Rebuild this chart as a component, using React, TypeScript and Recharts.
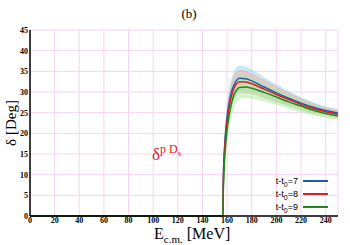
import { ComposedChart, Line, Area, XAxis, YAxis, CartesianGrid } from 'recharts';

// energies (MeV)
const energies = [0, 40, 80, 120, 156.5, 157, 158, 159, 160, 162, 164, 166, 168, 170, 175, 180, 190, 200, 210, 220, 230, 240, 250];

// phase shifts (deg) for each t-t0
const delta7 = [0, 0, 0, 0, 0, 10, 17, 21, 24, 28, 30.5, 32, 32.9, 33.3, 33.2, 32.7, 31.2, 29.8, 28.5, 27.3, 26.3, 25.5, 24.9];
const delta8 = [0, 0, 0, 0, 0, 9, 16, 20, 23, 27, 29.5, 31.2, 32.1, 32.5, 32.4, 32, 30.7, 29.4, 28.2, 27, 26, 25.2, 24.6];
const delta9 = [0, 0, 0, 0, 0, 7, 14, 18, 21, 25, 27.8, 29.6, 30.6, 31.1, 31.2, 30.9, 29.9, 28.8, 27.6, 26.6, 25.6, 24.8, 24.2];

// statistical errors (deg)
const err7 = [0, 0, 0, 0, 0, 1, 1.5, 2, 2.3, 2.6, 2.8, 2.9, 3, 3, 2.8, 2.6, 2.2, 1.9, 1.6, 1.3, 1.1, 0.9, 0.8];
const err8 = [0, 0, 0, 0, 0, 1, 1.5, 1.9, 2.2, 2.5, 2.6, 2.7, 2.7, 2.7, 2.6, 2.4, 2.1, 1.8, 1.5, 1.3, 1.1, 0.9, 0.8];
const err9 = [0, 0, 0, 0, 0, 1, 1.5, 1.9, 2.2, 2.5, 2.6, 2.6, 2.6, 2.6, 2.5, 2.3, 2.0, 1.7, 1.5, 1.3, 1.1, 0.9, 0.8];

const xTicks = [0, 20, 40, 60, 80, 100, 120, 140, 160, 180, 200, 220, 240];
const yTicks = [0, 5, 10, 15, 20, 25, 30, 35, 40, 45];

const data = energies.map((e, i) => ({
  e,
  d7: delta7[i],
  d8: delta8[i],
  d9: delta9[i],
  b7: [delta7[i] - err7[i], delta7[i] + err7[i]],
  b8: [delta8[i] - err8[i], delta8[i] + err8[i]],
  b9: [delta9[i] - err9[i], delta9[i] + err9[i]],
}));

const serif = '"Liberation Serif", "DejaVu Serif", serif';
const tickStyle = { fontFamily: serif, fontSize: 8, fontWeight: 'bold', fill: '#000' };

const legend = [
  { label: '7', color: '#1a5fb4' },
  { label: '8', color: '#e01b24' },
  { label: '9', color: '#1a8a1a' },
];

export default function App() {
  return (
    <div style={{ position: 'absolute', left: 0, top: 0, width: 350, height: 245, background: '#fff' }}>
      <ComposedChart width={350} height={245} data={data} margin={{ top: 30, right: 12, left: 0, bottom: 15 }}>
        <CartesianGrid stroke="#f4d4f0" ticks={xTicks} />
        <XAxis
          dataKey="e"
          type="number"
          domain={[0, 250]}
          ticks={xTicks}
          height={14}
          tick={tickStyle}
          tickLine={false}
          tickSize={1}
          tickMargin={0}
          axisLine={{ stroke: '#000', strokeWidth: 1.5 }}
          interval={0}
        />
        <XAxis xAxisId="top" orientation="top" dataKey="e" type="number" domain={[0, 250]} height={0} tick={false} axisLine={{ stroke: '#777' }} />
        <YAxis
          type="number"
          domain={[0, 45]}
          ticks={yTicks}
          width={30}
          tick={tickStyle}
          tickLine={false}
          tickSize={1}
          tickMargin={1}
          axisLine={{ stroke: '#000', strokeWidth: 1.5 }}
          interval={0}
        />
        <YAxis yAxisId="right" orientation="right" domain={[0, 45]} width={0} tick={false} axisLine={{ stroke: '#000' }} />
        <Area dataKey="b7" type="monotone" stroke="#8fd3f5" strokeWidth={0.5} fill="#9dd9f7" fillOpacity={0.55} isAnimationActive={false} />
        <Area dataKey="b8" type="monotone" stroke="#f5a090" strokeWidth={0.5} fill="#f7ab9d" fillOpacity={0.5} isAnimationActive={false} />
        <Area dataKey="b9" type="monotone" stroke="#98ee90" strokeWidth={0.5} fill="#a6f29e" fillOpacity={0.5} isAnimationActive={false} />
        <Line dataKey="d7" type="monotone" stroke="#1a5fb4" strokeWidth={1.5} dot={false} isAnimationActive={false} />
        <Line dataKey="d8" type="monotone" stroke="#e01b24" strokeWidth={1.5} dot={false} isAnimationActive={false} />
        <Line dataKey="d9" type="monotone" stroke="#1a8a1a" strokeWidth={1.5} dot={false} isAnimationActive={false} />
      </ComposedChart>

      <div style={{ position: 'absolute', left: 0, top: 6, width: 378, textAlign: 'center', fontFamily: serif, fontSize: 13, lineHeight: '15px' }}>(b)</div>

      <div
        style={{
          position: 'absolute',
          left: 11 - 50,
          top: 123 - 8,
          width: 100,
          height: 16,
          textAlign: 'center',
          transform: 'rotate(-90deg)',
          fontFamily: serif,
          fontSize: 15,
          lineHeight: '16px',
          whiteSpace: 'nowrap',
        }}
      >
        δ [Deg]
      </div>

      <div style={{ position: 'absolute', left: 154, top: 226, fontFamily: serif, fontSize: 16, lineHeight: '16px', whiteSpace: 'nowrap' }}>
        E<sub style={{ fontSize: 11, lineHeight: 0 }}>c.m.</sub> [MeV]
      </div>

      <div style={{ position: 'absolute', left: 152, top: 146, fontFamily: serif, fontSize: 17, lineHeight: '17px', color: '#e01b24', whiteSpace: 'nowrap' }}>
        δ<sup style={{ fontSize: 12, lineHeight: 0 }}>p D<sub style={{ fontSize: 9, lineHeight: 0 }}>s</sub></sup>
      </div>

      {legend.map((l, i) => (
        <div key={l.label} style={{ position: 'absolute', left: 270, top: 175 + i * 13, width: 60, height: 12, fontFamily: '"Liberation Sans", sans-serif', fontSize: 9 }}>
          <span style={{ position: 'absolute', right: 32, top: 0, whiteSpace: 'nowrap', lineHeight: '12px' }}>
            t-t<sub style={{ fontSize: 7, lineHeight: 0 }}>0</sub>=<span>{l.label}</span>
          </span>
          <span style={{ position: 'absolute', left: 33, top: 5, width: 25, height: 2, background: l.color }} />
        </div>
      ))}
    </div>
  );
}
